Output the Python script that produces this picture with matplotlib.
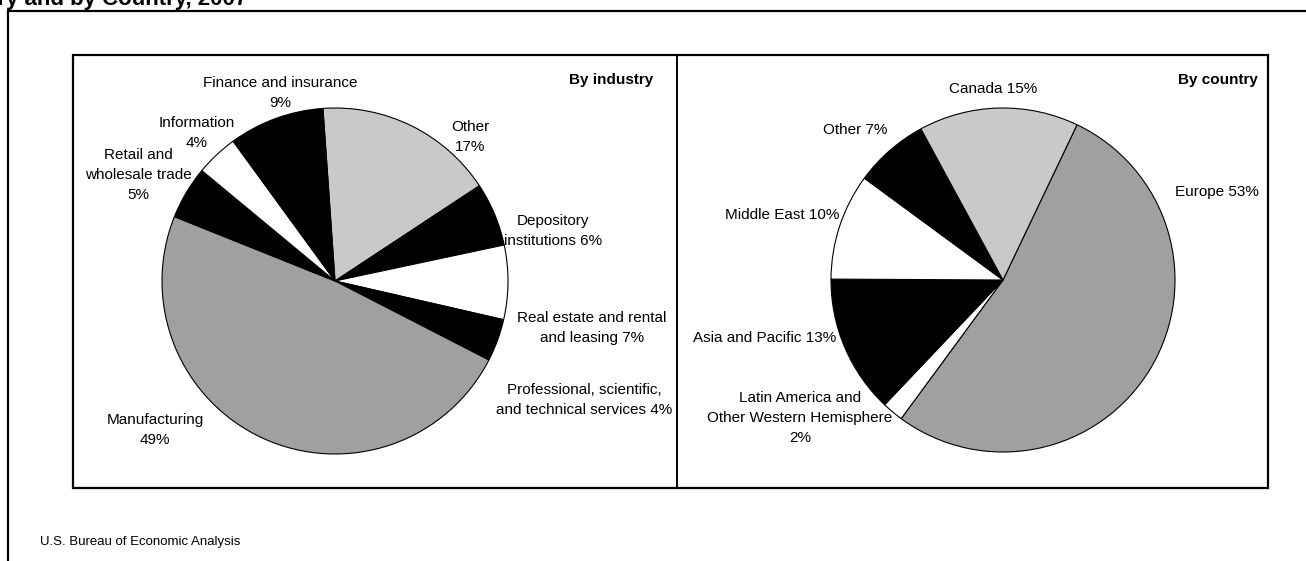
"""Two pie charts: investment by industry and by country (BEA style)."""

import matplotlib
import matplotlib.pyplot as plt
from matplotlib.patches import Rectangle

matplotlib.use("Agg")

plt.rcParams["font.family"] = ["Liberation Sans", "DejaVu Sans"]

# ---------------------------------------------------------------------------
# Data
# ---------------------------------------------------------------------------

# Clockwise from the top ("Other" starts just left of 12 o'clock).
industry_labels = [
    "Other\n17%",
    "Depository\ninstitutions 6%",
    "Real estate and rental\nand leasing 7%",
    "Professional, scientific,\nand technical services 4%",
    "Manufacturing\n49%",
    "Retail and\nwholesale trade\n5%",
    "Information\n4%",
    "Finance and insurance\n9%",
]
industry_values = [17, 6, 7, 4, 49, 5, 4, 9]

country_labels = [
    "Europe 53%",
    "Latin America and\nOther Western Hemisphere\n2%",
    "Asia and Pacific 13%",
    "Middle East 10%",
    "Other 7%",
    "Canada 15%",
]
country_values = [53, 2, 13, 10, 7, 15]

# ---------------------------------------------------------------------------
# Styling
# ---------------------------------------------------------------------------

W, H = 1306, 561
MID = "#a0a0a0"
LIGHT = "#c9c9c9"
BLACK = "#000000"
WHITE = "#ffffff"

industry_colors = [LIGHT, BLACK, WHITE, BLACK, MID, BLACK, WHITE, BLACK]
country_colors = [MID, WHITE, BLACK, WHITE, BLACK, LIGHT]

# label anchor (pixel coords, y down)
industry_label_pos = [
    (470, 137), (553, 231), (592, 328), (584, 400),
    (155, 430), (138, 175), (197, 133), (280, 93),
]
country_label_pos = [
    (1217, 192), (800, 418), (765, 338), (782, 215), (855, 130), (993, 89),
]


def py(y):
    """Flip a pixel y (top-down) into axes data y (bottom-up)."""
    return H - y


fig = plt.figure(figsize=(W / 100, H / 100), dpi=100)
ax = fig.add_axes([0, 0, 1, 1])

wedge_kw = {"edgecolor": "black", "linewidth": 0.8}

ax.pie(
    industry_values, colors=industry_colors, startangle=94, counterclock=False,
    center=(335, py(281)), radius=173, wedgeprops=wedge_kw, frame=True,
)
ax.pie(
    country_values, colors=country_colors, startangle=64.5, counterclock=False,
    center=(1003, py(280)), radius=172, wedgeprops=wedge_kw, frame=True,
)
ax.set_xlim(0, W)
ax.set_ylim(0, H)
ax.axis("off")

# Outer frame (runs off the right and bottom edges).
ax.plot([8, 8, W + 5], [-5, py(11), py(11)], color="black", lw=1.6, solid_joinstyle="miter")

# Panel boxes.
ax.add_patch(Rectangle((73, py(488)), 1268 - 73, 488 - 55, fill=False, lw=1.6, ec="black"))
ax.plot([677, 677], [py(55), py(488)], color="black", lw=1.4)

fs = 11
for text, (x, y) in zip(industry_labels, industry_label_pos):
    ax.text(x, py(y), text, ha="center", va="center", fontsize=fs, linespacing=1.55)
for text, (x, y) in zip(country_labels, country_label_pos):
    ax.text(x, py(y), text, ha="center", va="center", fontsize=fs, linespacing=1.55)

ax.text(653, py(80), "By industry", ha="right", va="center", fontsize=fs, fontweight="bold")
ax.text(1258, py(80), "By country", ha="right", va="center", fontsize=fs, fontweight="bold")

ax.text(40, py(542), "U.S. Bureau of Economic Analysis", ha="left", va="center", fontsize=9.5)

# Title, cut off at the top of the scan.
ax.text(247, py(5), "Industry and by Country, 2007", ha="right", va="baseline",
        fontsize=16, fontweight="bold")

fig.savefig("out.png", dpi=100)
